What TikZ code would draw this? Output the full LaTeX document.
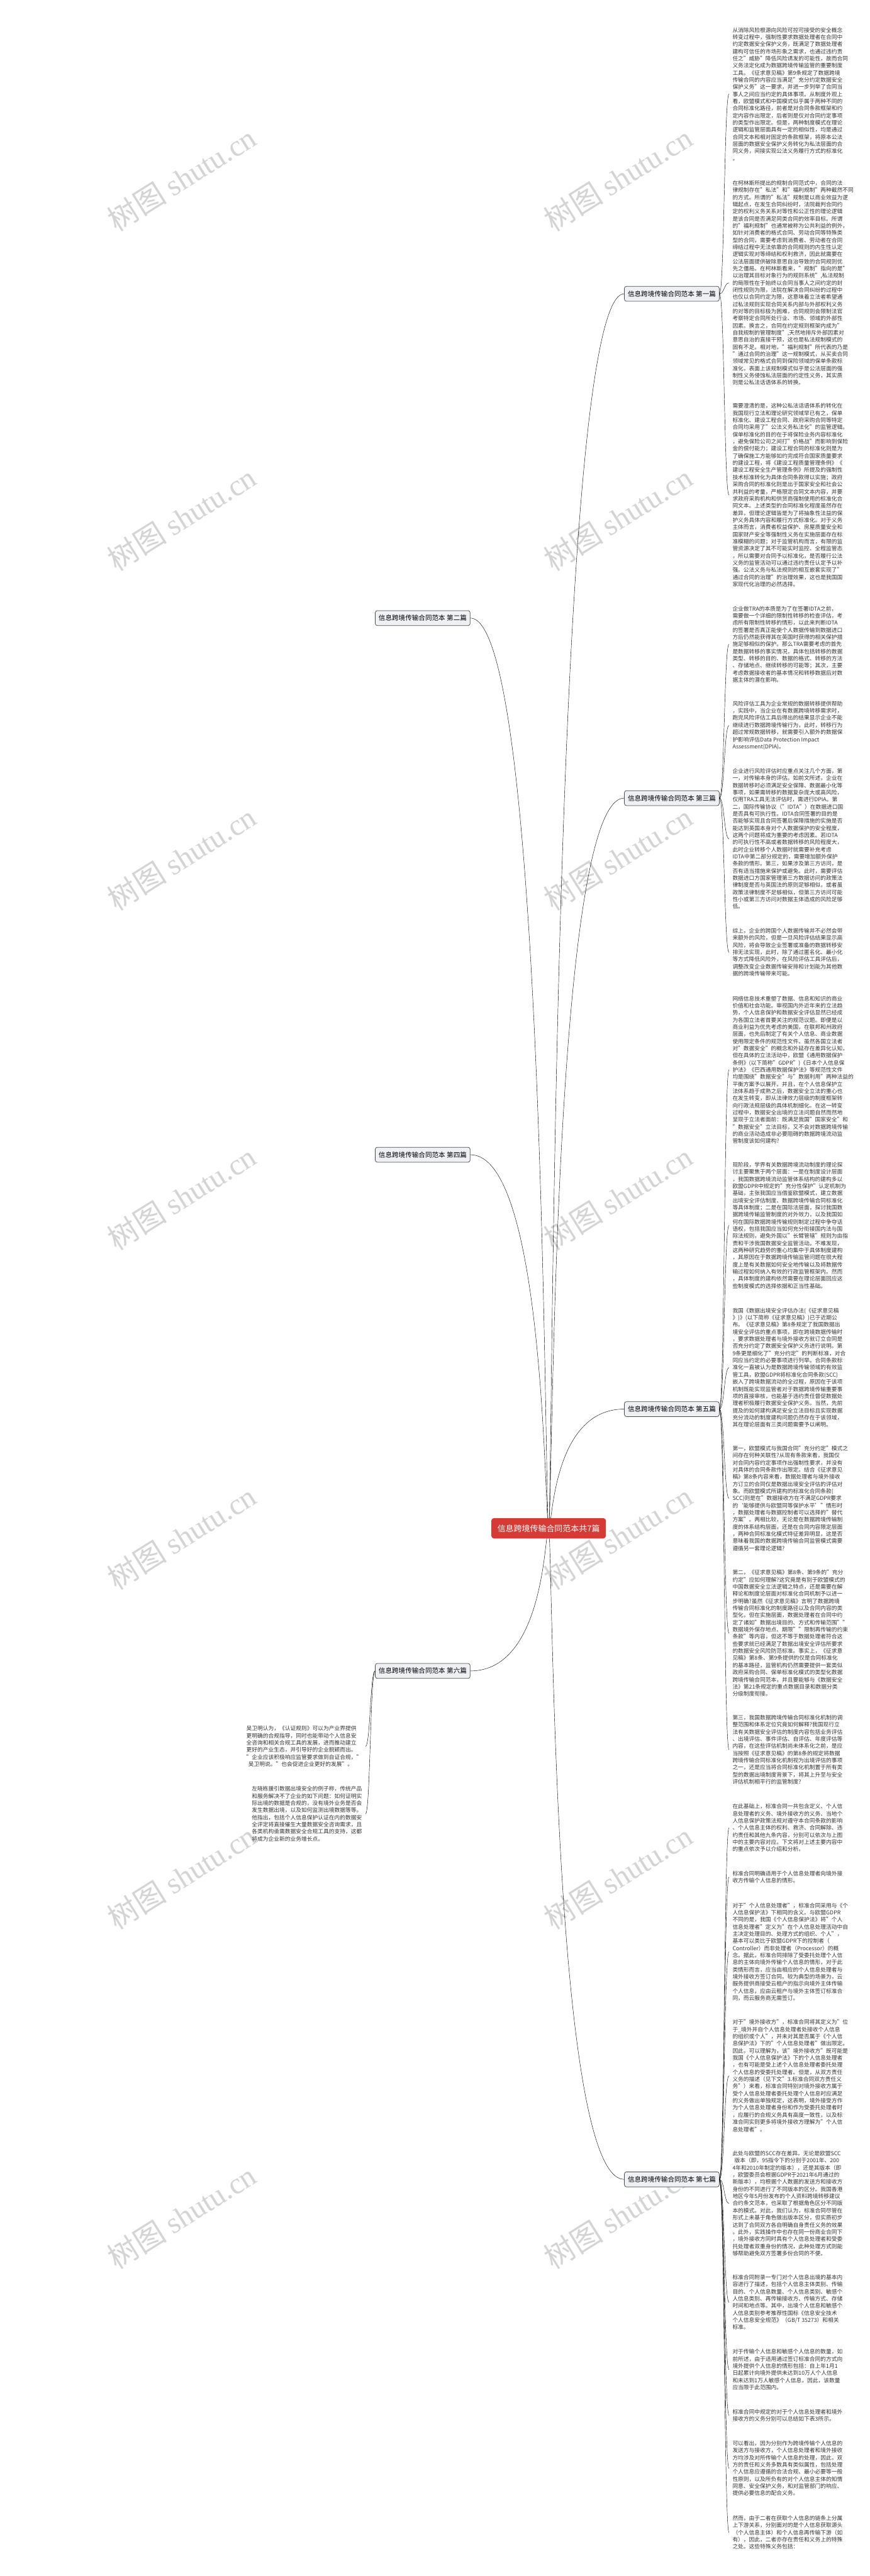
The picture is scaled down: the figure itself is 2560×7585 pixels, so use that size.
\documentclass[tikz,border=0pt]{standalone}
\usepackage{fontspec}
\setmainfont{Noto Sans CJK SC}
\newfontfamily\wmlatin{Liberation Serif}
\usetikzlibrary{calc}
\pgfdeclarelayer{bglayer}
\pgfdeclarelayer{wmlayer}
\pgfdeclarelayer{linklayer}
\pgfsetlayers{bglayer,wmlayer,linklayer,main}
\definecolor{linkred}{HTML}{C0282E}
\definecolor{nodefill}{HTML}{EEF0F4}
\definecolor{nodeedge}{HTML}{4A4A4A}
\definecolor{textgray}{HTML}{333333}
\definecolor{rootred}{HTML}{D63A35}
\definecolor{wmgray}{HTML}{D4D4D4}
\tikzset{
  leaf/.style={anchor=west, align=left, inner xsep=5pt, inner ysep=0pt, text=textgray,
    font=\fontsize{8.1pt}{10.5pt}\selectfont},
  leafl/.style={anchor=east, align=left, inner xsep=5pt, inner ysep=0pt, text=textgray,
    font=\fontsize{8.1pt}{10.5pt}\selectfont},
  branch/.style={draw=nodeedge, line width=0.7pt, fill=nodefill, rounded corners=3pt,
    font=\fontsize{9.8pt}{12pt}\selectfont, inner xsep=5pt, minimum height=22pt, text=black},
  rootbox/.style={fill=rootred, rounded corners=4pt, text=white,
    font=\fontsize{12pt}{14pt}\selectfont, inner xsep=9pt, minimum height=30pt},
  wm/.style={rotate=32, anchor=south west, text=wmgray, inner sep=0pt,
    font=\fontsize{44pt}{44pt}\selectfont},
  link/.style={draw=linkred, line width=1pt},
  rlink/.style={link, to path={.. controls ($(\tikztostart)+(14,0)$) and ($(\tikztotarget)+(-14,0)$) .. (\tikztotarget)}},
  lrlink/.style={link, to path={.. controls ($(\tikztostart)+(-14,0)$) and ($(\tikztotarget)+(14,0)$) .. (\tikztotarget)}},
  clink/.style={link, line width=1.3pt, to path={.. controls ($(\tikztostart)+(12,0)$) and ($(\tikztostart |- \tikztotarget)+(8,0)$) .. (\tikztotarget)}},
  llink/.style={link, line width=1.3pt, to path={.. controls ($(\tikztostart)+(-12,0)$) and ($(\tikztostart |- \tikztotarget)+(-8,0)$) .. (\tikztotarget)}},
}
\begin{document}
\begin{tikzpicture}[x=0.5pt,y=-0.5pt]
\useasboundingbox (0,0) rectangle (2560,7585);
\begin{pgfonlayer}{bglayer}
\fill[white] (0,0) rectangle (2560,7585);
\end{pgfonlayer}

% ---------------- watermark ----------------
\begin{pgfonlayer}{wmlayer}
\foreach \wy [count=\k] in {690,1690,2690,3690,4690,5690,6690} {
  \node[wm] (wl\k) at (348,\wy) {树图 {\wmlatin shutu.cn}};
  \node[wm] (wr\k) at (1633,\wy) {树图 {\wmlatin shutu.cn}};
}
\end{pgfonlayer}

% ---------------- root and branches ----------------
\node[rootbox] (root) at (1615,4500) {信息跨境传输合同范本共7篇};
\node[branch, anchor=east] (p1) at (2118,865) {信息跨境传输合同范本 第一篇};
\node[branch, anchor=east] (p3) at (2118,2350) {信息跨境传输合同范本 第三篇};
\node[branch, anchor=east] (p5) at (2118,4149) {信息跨境传输合同范本 第五篇};
\node[branch, anchor=east] (p7) at (2118,6417) {信息跨境传输合同范本 第七篇};
\node[branch, anchor=west] (p2) at (1104,1820) {信息跨境传输合同范本 第二篇};
\node[branch, anchor=west] (p4) at (1104,3400) {信息跨境传输合同范本 第四篇};
\node[branch, anchor=west] (p6) at (1104,4920) {信息跨境传输合同范本 第六篇};

\begin{pgfonlayer}{linklayer}
\foreach \p in {p1,p3,p5,p7} \draw (root.center) to[clink] (\p.west);
\foreach \p in {p2,p4,p6} \draw (root.center) to[llink] (\p.east);
\end{pgfonlayer}

% ---------------- 第六篇 (partial) ----------------
\node[leafl] (f1) at (1076,5142) {吴卫明认为，《认证规则》可以为产业界提供\\更明确的合规指导，同时也能带动个人信息安\\全咨询和相关合规工具的发展，进而推动建立\\更好的产业生态，并引导好的企业脱颖而出。\\"企业应该积极响应监管要求做到自证合规，"\\\hspace*{3pt}吴卫明说。"也会促进企业更好的发展"。};
\node[leafl] (f2) at (1076,5341) {左晓栋援引数据出境安全的例子称，传统产品\\和服务解决不了企业的如下问题：如何证明实\\际出境的数据是合规的，没有境外业务是否会\\发生数据出境，以及如何监测出境数据等等。\\他指出，包括个人信息保护认证在内的数据安\\全评定将直接催生大量数据安全咨询需求，且\\各类机构亟需数据安全合规工具的支持，这都\\将成为企业新的业务增长点。};
\foreach \t in {f1,f2} \draw (p6.west) to[lrlink] (\t.east);

% ---------------- 第一篇 ----------------
\node[leaf] (a1) at (2146,277) {从消除风险根源向风险可控可接受的安全概念\\转变过程中，强制性要求数据处理者在合同中\\约定数据安全保护义务，既满足了数据处理者\\建构可信任的市场形象之需求，也通过违约责\\任之"威胁"降低风险诱发的可能性，故而合同\\义务法定化成为数据跨境传输监管的重要制度\\工具。《征求意见稿》第9条规定了数据跨境\\传输合同的内容应当满足"充分约定数据安全\\保护义务"这一要求，并进一步列举了合同当\\事人之间应当约定的具体事项。从制度外观上\\看，欧盟模式和中国模式似乎属于两种不同的\\合同标准化路径，前者是对合同条款框架和约\\定内容作出限定，后者则是仅对合同约定事项\\的类型作出限定。但是，两种制度模式在理论\\逻辑和监管层面具有一定的相似性，均是通过\\合同文本和相对固定的条款框架，将原本公法\\层面的数据安全保护义务转化为私法层面的合\\同义务，间接实现公法义务履行方式的标准化\\。};
\node[leaf] (a2) at (2146,833) {在柯林斯所提出的规制合同范式中，合同的法\\律规制存在"私法"和"福利规制"两种截然不同\\的方式。所谓的"私法"规制是以商业效益为逻\\辑起点，在发生合同纠纷时，法院裁判合同约\\定的权利义务关系对等性和公正性的理论逻辑\\是该合同是否满足同类合同的效率目标。所谓\\的"福利规制"也通常被称为公共利益的例外，\\如针对消费者的格式合同、劳动合同等特殊类\\型的合同，需要考虑到消费者、劳动者在合同\\缔结过程中无法依靠的合同规则的内生性认定\\逻辑实现对等缔结和权利救济，因此就需要在\\公法层面提供破除意思自治导致的合同规则优\\先之僵局。在柯林斯看来，"规制"指向的是"\\以治理其目标对象行为的规则系统",私法规制\\的局限性在于始终以合同当事人之间约定的封\\闭性规则为限，法院在解决合同纠纷的过程中\\也仅以合同约定为限，这意味着立法者希望通\\过私法规则实现合同关系内部与外部权利义务\\的对等的目标极为困难，合同规则会限制法官\\考察特定合同所处行业、市场、领域的外部性\\因素。换言之，合同在约定规则框架内成为"\\自我规制的管理制度",天然地排斥外部因素对\\意思自治的直接干预，这也是私法规制模式的\\固有不足。相对地，"福利规制"所代表的乃是\\"通过合同的治理"这一规制模式，从买卖合同\\领域常见的格式合同到保险领域的保单条款标\\准化，表面上该规制模式似乎是公法层面的强\\制性义务侵蚀私法层面的约定性义务，其实质\\则是公私法话语体系的转换。};
\node[leaf] (a3) at (2146,1458) {需要澄清的是，这种公私法话语体系的转化在\\我国现行立法和理论研究领域早已有之，保单\\标准化、建设工程合同、政府采购合同等特定\\合同均采用了"公法义务私法化"的监管逻辑。\\保单标准化的目的在于将保险业务内容标准化\\，避免保险公司之间打"价格战"而影响到保险\\金的偿付能力；建设工程合同的标准化则是为\\了确保施工方能够如约完成符合国家质量要求\\的建设工程，将《建设工程质量管理条例》《\\建设工程安全生产管理条例》所提及的强制性\\技术标准转化为具体合同条款得以实施；政府\\采购合同的标准化则是出于国家安全和社会公\\共利益的考量，严格限定合同文本内容，并要\\求政府采购机构和供货商强制使用的标准化合\\同文本。上述类型的合同标准化程度虽然存在\\差异，但理论逻辑皆是为了将抽象性法益的保\\护义务具体内容和履行方式标准化。对于义务\\主体而言，消费者权益保护、房屋质量安全和\\国家财产安全等强制性义务在实施层面存在标\\准模糊的问题；对于监管机构而言，有限的监\\管资源决定了其不可能实时监控、全程监管态\\，所以需要对合同予以标准化，是否履行公法\\义务的监管活动可以通过违约责任认定予以补\\强。公法义务与私法规则的相互嵌套实现了"\\通过合同的治理"的治理效果，这也是我国国\\家现代化治理的必然选择。};
\foreach \t in {a1,a2,a3} \draw (p1.east) to[rlink] (\t.west);

% ---------------- 第三篇 ----------------
\node[leaf] (c1) at (2146,1897) {企业做TRA的本质是为了在签署IDTA之前，\\需要做一个详细的限制性转移的检查评估，考\\虑所有限制性转移的情形，以此来判断IDTA\\的签署是否真正能使个人数据传输到数据进口\\方后仍然能获得其在英国时获得的相关保护措\\施足够相似的保护。那么TRA需要考虑的首先\\是数据转移的事实情况，具体包括转移的数据\\类型、转移的目的、数据的格式、转移的方法\\、存储地点、继续转移的可能等；其次，主要\\考虑数据接收者的基本情况和转移数据后对数\\据主体的潜在影响。};
\node[leaf] (c2) at (2146,2136) {风险评估工具为企业常规的数据转移提供帮助\\，实践中，当企业在有数据跨境转移需求时，\\跑完风险评估工具后得出的结果显示企业不能\\继续进行数据跨境传输行为，此时，转移行为\\超过常规数据转移，就需要引入额外的数据保\\护影响评估Data Protection Impact\\Assessment(DPIA)。};
\node[leaf] (c3) at (2146,2470) {企业进行风险评估时应重点关注几个方面，第\\一，对传输本身的评估。如前文所述，企业在\\数据转移时必须满足安全保障、数据最小化等\\事项，如果需转移的数据复杂庞大或高风险，\\仅用TRA工具无法评估时，需进行DPIA。第\\二，国际传输协议（"IDTA"）在数据进口国\\是否具有可执行性。IDTA合同签署的目的是\\否能够实现且合同签署后保障措施的实施是否\\能达到英国本身对个人数据保护的安全程度，\\这两个问题将成为重要的考虑因素。若IDTA\\的可执行性不高或者数据转移的风险程度大，\\此时企业转移个人数据时就需要补充考虑\\IDTA中第二部分规定的，需要增加额外保护\\条款的情形。第三，如果涉及第三方访问，是\\否有适当措施来保护或避免。此时，需要评估\\数据进口方国家管理第三方数据访问的政策法\\律制度是否与英国法的原则足够相似，或者虽\\政策法律制度不足够相似，但第三方访问可能\\性小或第三方访问对数据主体造成的风险足够\\低。};
\node[leaf] (c4) at (2146,2804) {综上，企业的跨国个人数据传输并不必然会带\\来额外的风险，但是一旦风险评估结果显示高\\风险，将会导致企业签署或准备的数据转移安\\排无法实现，此时，除了通过匿名化、最小化\\等方式降低风险外，在风险评估工具评估后，\\调整改变企业数据传输安排和计划能为其他数\\据的跨境传输带来可能。};
\foreach \t in {c1,c2,c3,c4} \draw (p3.east) to[rlink] (\t.west);

% ---------------- 第五篇 ----------------
\node[leaf] (e1) at (2146,3150) {网络信息技术重塑了数据、信息和知识的商业\\价值和社会功能。审视国内外近年来的立法趋\\势，个人信息保护和数据安全评估显然已经成\\为各国立法者首要关注的规范议题。即便是以\\商业利益为优先考虑的美国，在联邦和州政府\\层面，也先后制定了有关个人信息、商业数据\\使用限定条件的规范性文件。虽然各国立法者\\对"数据安全"的概念和外延存在差异化认知，\\但在具体的立法活动中，欧盟《通用数据保护\\条例》(以下简称"GDPR")《日本个人信息保\\护法》《巴西通用数据保护法》等规范性文件\\均是围绕"数据安全"与"数据利用"两种法益的\\平衡方案予以展开。并且，在个人信息保护立\\法体系趋于成熟之后，数据安全立法的重心也\\在发生转变，即从法律效力层级的制度框架转\\向行政法规层级的具体机制细化。在这一转变\\过程中，数据安全出境的立法问题自然而然地\\呈现于立法者面前：既满足我国"国家安全"和\\"数据安全"立法目标，又不会对数据跨境传输\\的商业活动造成非必要阻碍的数据跨境流动监\\管制度该如何建构?};
\node[leaf] (e2) at (2146,3608) {现阶段，学界有关数据跨境流动制度的理论探\\讨主要聚焦于两个层面：一是在制度设计层面\\，我国数据跨境流动监管体系结构的建构多以\\欧盟GDPR中规定的"充分性保护"认定机制为\\基础，主张我国应当借鉴欧盟模式，建立数据\\出境安全评估制度、数据跨境传输合同标准化\\等具体制度；二是在国际法层面，探讨我国数\\据跨境传输监管制度的对外效力，以及我国如\\何在国际数据跨境传输规则制定过程中争夺话\\语权，包括我国应当如何充分衔接国内法与国\\际法规则，避免外国以"长臂管辖"规则为由指\\责和干涉我国数据安全监管活动。不难发现，\\这两种研究趋势的重心均集中于具体制度建构\\，其原因在于数据跨境传输监管问题在很大程\\度上是有关数据如何安全地传输以及将数据传\\输过程如何纳入有效的行政监管框架内。然而\\，具体制度的建构依然需要在理论层面回应这\\些制度模式的选择依据和正当性基础。};
\node[leaf] (e3) at (2146,4027) {我国《数据出境安全评估办法(《征求意见稿\\》)》(以下简称《征求意见稿》)已于近期公\\布。《征求意见稿》第8条规定了我国数据出\\境安全评估的重点事项，即在跨境数据传输时\\，要求数据处理者与境外接收方就订立合同是\\否充分约定了数据安全保护义务进行说明。第\\9条更是细化了"充分约定"的判断标准，对合\\同应当约定的必要事项进行列举。合同条款标\\准化一直被认为是数据跨境传输领域的有效监\\管工具，欧盟GDPR将标准化合同条款(SCC)\\嵌入了跨境数据流动的全过程，原因在于该项\\机制既能实现监管者对于数据跨境传输重要事\\项的直接审核，也能基于违约责任督促数据处\\理者积极履行数据安全保护义务。当然，先前\\提及的如何建构满足安全立法目标且实现数据\\充分流动的制度建构问题仍然存在于该领域，\\其在理论层面有三类问题需要予以阐明。};
\node[leaf] (e4) at (2146,4412) {第一，欧盟模式与我国合同"充分约定"模式之\\间存在何种关联性?从现有条款来看，我国仅\\对合同内容约定事项作出强制性要求，并没有\\对具体的合同条款作出限定。结合《征求意见\\稿》第8条内容来看，数据处理者与境外接收\\方订立的合同仅是数据出境安全评估的评估对\\象。而欧盟模式所建构的标准化合同条款(\\SCC)则是在"数据接收方在不满足GDPR要求\\的‘能够提供与欧盟同等保护水平’"情形时\\，数据处理者与数据控制者可以选择的"替代\\方案"。两相比较，无论是在数据跨境传输制\\度的体系结构层面，还是在合同内容限定层面\\，两种合同标准化模式特征差异明显，这是否\\意味着我国的数据跨境传输合同监管模式需要\\遵循另一套理论逻辑?};
\node[leaf] (e5) at (2146,4809) {第二，《征求意见稿》第8条、第9条的"充分\\约定"应如何理解?这究竟是有别于欧盟模式的\\中国数据安全立法逻辑之特点，还是需要在解\\释论和制度论层面对标准化合同机制予以进一\\步明确?虽然《征求意见稿》言明了数据跨境\\传输合同标准化的制度路径以及合同内容的类\\型化，但在实施层面，数据处理者在合同中约\\定了诸如"数据出境目的、方式和传输范围""\\数据境外保存地点、期限""限制再传输的约束\\条款"等内容，但这不等于数据处理者符合这\\些要求就已经满足了数据出境安全评估所要求\\的数据安全风险防范标准。事实上，《征求意\\见稿》第8条、第9条提供的仅是合同标准化\\的基本路径，监管机构仍然需要提供一套类似\\政府采购合同、保单标准化模式的类型化数据\\跨境传输合同范本，并且要能够与《数据安全\\法》第21条规定的重点数据目录和数据分类\\分级制度衔接。};
\node[leaf] (e6) at (2146,5152) {第三，我国数据跨境传输合同标准化机制的调\\整范围和体系定位究竟如何解释?我国现行立\\法有关数据安全评估的制度内容包括业务评估\\、出境评估、事件评估、自评估、年度评估等\\内容，在这些评估机制尚未体系化之前，是应\\当按照《征求意见稿》的第8条的规定将数据\\跨境传输合同标准化机制视为出境评估的事项\\之一，还是应当将合同标准化机制置于所有类\\型的数据出境制度背景下，将其上升至与安全\\评估机制相平行的监管制度?};
\foreach \t in {e1,e2,e3,e4,e5,e6} \draw (p5.east) to[rlink] (\t.west);

% ---------------- 第七篇 ----------------
\node[leaf] (g1) at (2146,5382) {在此基础上，标准合同一共包含定义、个人信\\息处理者的义务、境外接收方的义务、当地个\\人信息保护政策法规对遵守本合同条款的影响\\、个人信息主体的权利、救济、合同解除、违\\约责任和其他九条内容，分别可以依次与上图\\中的主要内容对应。下文将对上述主要内容中\\的重点依次予以介绍和分析。};
\node[leaf] (g2) at (2146,5527) {标准合同明确适用于个人信息处理者向境外接\\收方传输个人信息的情形。};
\node[leaf] (g3) at (2146,5747) {对于"个人信息处理者"，标准合同采用与《个\\人信息保护法》下相同的含义。与欧盟GDPR\\不同的是，我国《个人信息保护法》将"个人\\信息处理者"定义为"在个人信息处理活动中自\\主决定处理目的、处理方式的组织、个人"，\\基本可以类比于欧盟GDPR下的控制者（\\Controller）而非处理者（Processor）的概\\念。据此，标准合同排除了受委托处理个人信\\息的主体向境外传输个人信息的情形，对于此\\类情形而言，应当由相应的个人信息处理者与\\境外接收方签订合同。较为典型的场景为，云\\服务提供商接受云租户的指示向境外主体传输\\个人信息，应由云租户与境外主体签订标准合\\同，而云服务商无需签订。};
\node[leaf] (g4) at (2146,6112) {对于"境外接收方"，标准合同将其定义为"位\\于\_境外并自个人信息处理者处接收个人信息\\的组织或个人"，并未对其是否属于《个人信\\息保护法》下的"个人信息处理者"做出限定。\\因此，可以理解为，该"境外接收方"既可能是\\我国《个人信息保护法》下的个人信息处理者\\，也有可能是受上述个人信息处理者委托处理\\个人信息的受委托处理者。但是，从双方责任\\义务的描述（见下文"3.标准合同双方责任义\\务"）来看，标准合同特别对境外接收方属于\\受个人信息处理者委托处理个人信息时应满足\\的义务做出单独规定，这表明，境外接受方作\\为个人信息处理者身份和作为受委托处理者时\\，应履行的合规义务具有高度一致性，以及标\\准合同实则更多将境外接收方理解为"个人信\\息处理者"。};
\node[leaf] (g5) at (2146,6488) {此处与欧盟的SCC存在差异。无论是欧盟SCC\\\hspace*{3pt}版本（即，95指令下的分别于2001年、200\\4年和2010年制定的版本），还是其版本（即\\，欧盟委员会根据GDPR于2021年6月通过的\\新版本），均根据个人数据的发送方和接收方\\身份的不同进行了不同版本的区分。我国香港\\地区今年5月份发布的个人资料跨境转移建议\\合约条文范本，也采取了根据角色区分不同版\\本的模式。对此，我们认为，标准合同尽管在\\形式上未基于角色做出版本区分，但实质初步\\达到了合同双方各自明确自身责任义务的效果\\。此外，实践操作中也存在同一份商业合同下\\，境外接收方同时具有个人信息处理者和受委\\托处理者双重身份的情况，此种处理方式则能\\够帮助避免双方签署多份合同的不便。};
\node[leaf] (g6) at (2146,6779) {标准合同附录一专门对个人信息出境的基本内\\容进行了描述，包括个人信息主体类别、传输\\目的、个人信息数量、个人信息类别、敏感个\\人信息类别、再传输接收方、传输方式、存储\\时间和地点等。其中，出境个人信息和敏感个\\人信息类别参考推荐性国标《信息安全技术\\个人信息安全规范》（GB/T 35273）和相关\\标准。};
\node[leaf] (g7) at (2146,6977) {对于传输个人信息和敏感个人信息的数量，如\\前所述，由于适用通过签订标准合同的方式向\\境外提供个人信息的情形包括：自上年1月1\\日起累计向境外提供未达到10万人个人信息\\和未达到1万人敏感个人信息，因此，该数量\\应当限于此范围内。};
\node[leaf] (g8) at (2146,7112) {标准合同中规定的对于个人信息处理者和境外\\接收方的义务分别可以总结如下表3所示。};
\node[leaf] (g9) at (2146,7268) {可以看出，因为分别作为跨境传输个人信息的\\发送方与接收方，个人信息处理者和境外接收\\方均涉及对所传输个人信息的处理，因此，双\\方的责任和义务多数具有类似属性，包括处理\\个人信息应遵循的合法合规、最小必要等一般\\性原则，以及所负有的对个人信息主体的知情\\同意、安全保护义务，和对监管部门的响应、\\提供必要信息的配合义务。};
\node[leaf] (g10) at (2146,7457) {然而，由于二者在获取个人信息的链条上分属\\上下游关系，分别面对的是个人信息获取源头\\（个人信息主体）和个人信息再传输下游（如\\有），因此，二者亦存在责任和义务上的特殊\\之处。这些特殊义务包括：};
\foreach \t in {g1,g2,g3,g4,g5,g6,g7,g8,g9,g10} \draw (p7.east) to[rlink] (\t.west);
\end{tikzpicture}
\end{document}
